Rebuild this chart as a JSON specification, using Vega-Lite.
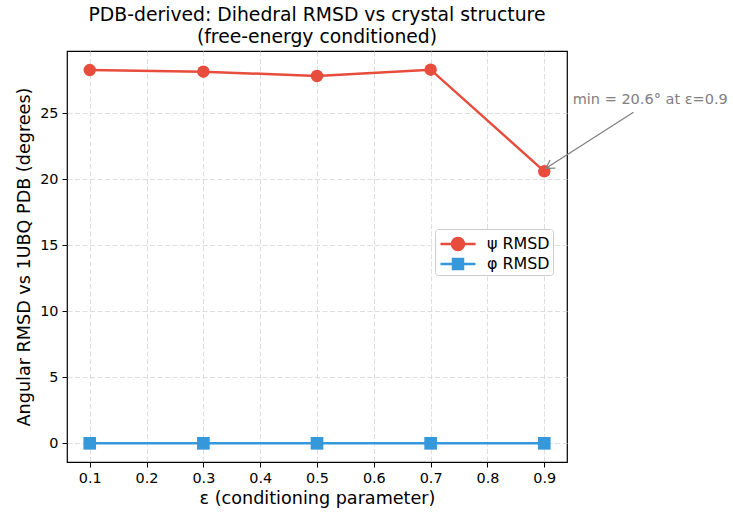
{
  "$schema": "https://vega.github.io/schema/vega-lite/v6.json",
  "width": 500,
  "height": 411,
  "autosize": {"type": "none"},
  "padding": {"left": 67, "top": 51, "right": 166, "bottom": 54},
  "background": "white",
  "title": {
    "text": ["PDB-derived: Dihedral RMSD vs crystal structure", "(free-energy conditioned)"],
    "anchor": "middle",
    "font": "DejaVu Sans",
    "fontSize": 18.8,
    "fontWeight": "normal",
    "color": "#000",
    "offset": 4,
    "lineHeight": 22
  },
  "config": {
    "font": "DejaVu Sans",
    "view": {"stroke": "#000", "strokeWidth": 1.2},
    "axis": {
      "domain": false,
      "grid": true,
      "gridColor": "#d6d6d6",
      "gridDash": [5, 2.5],
      "gridWidth": 0.8,
      "tickColor": "#000",
      "tickSize": 5,
      "tickWidth": 1,
      "labelFont": "DejaVu Sans",
      "labelFontSize": 14.4,
      "labelColor": "#000",
      "labelPadding": 4,
      "titleFont": "DejaVu Sans",
      "titleFontSize": 17.6,
      "titleFontWeight": "normal",
      "titleColor": "#000"
    }
  },
  "datasets": {
    "series": [
      {"eps": 0.1, "rmsd": 28.27, "series": "ψ RMSD"},
      {"eps": 0.3, "rmsd": 28.15, "series": "ψ RMSD"},
      {"eps": 0.5, "rmsd": 27.82, "series": "ψ RMSD"},
      {"eps": 0.7, "rmsd": 28.3, "series": "ψ RMSD"},
      {"eps": 0.9, "rmsd": 20.6, "series": "ψ RMSD"},
      {"eps": 0.1, "rmsd": 0, "series": "φ RMSD"},
      {"eps": 0.3, "rmsd": 0, "series": "φ RMSD"},
      {"eps": 0.5, "rmsd": 0, "series": "φ RMSD"},
      {"eps": 0.7, "rmsd": 0, "series": "φ RMSD"},
      {"eps": 0.9, "rmsd": 0, "series": "φ RMSD"}
    ],
    "note": [
      {"tx": 0.95, "ty": 26.0, "x1": 1.057, "y1": 25.07, "x2": 0.903, "y2": 20.83, "label": "min = 20.6° at ε=0.9"}
    ]
  },
  "encoding": {
    "x": {
      "type": "quantitative",
      "scale": {"domain": [0.06, 0.94], "nice": false, "zero": false},
      "axis": {"values": [0.1, 0.2, 0.3, 0.4, 0.5, 0.6, 0.7, 0.8, 0.9], "format": ".1f", "title": "ε (conditioning parameter)", "titlePadding": 5}
    },
    "y": {
      "type": "quantitative",
      "scale": {"domain": [-1.415, 29.715], "nice": false, "zero": false},
      "axis": {"values": [0, 5, 10, 15, 20, 25], "title": "Angular RMSD vs 1UBQ PDB (degrees)", "titlePadding": 6}
    }
  },
  "layer": [
    {
      "data": {"name": "series"},
      "mark": {"type": "line", "strokeWidth": 2.5},
      "encoding": {
        "x": {"field": "eps"},
        "y": {"field": "rmsd"},
        "color": {
          "field": "series",
          "type": "nominal",
          "scale": {"domain": ["ψ RMSD", "φ RMSD"], "range": ["#e74c3c", "#3498db"]},
          "legend": {
            "title": null,
            "orient": "none",
            "legendX": 368,
            "legendY": 178,
            "padding": 3,
            "symbolSize": 576,
            "symbolOffset": 8,
            "labelOffset": 17,
            "rowPadding": -0.6,
            "labelFont": "DejaVu Sans",
            "labelFontSize": 15.9,
            "labelColor": "#000",
            "fillColor": "white",
            "strokeColor": "#cccccc",
            "cornerRadius": 3,
            "encode": {
              "symbols": {
                "update": {
                  "shape": {"signal": "datum.value === 'ψ RMSD' ? 'M-1.46,-0.1H1.46V0.1H-1.46Z M0.6,0A0.6,0.6,0,1,1,-0.6,0A0.6,0.6,0,1,1,0.6,0Z' : 'M-1.46,-0.1H1.46V0.1H-1.46Z M-0.52,-0.52H0.52V0.52H-0.52Z'"},
                  "fill": {"scale": "color", "field": "value"},
                  "fillOpacity": {"value": 1},
                  "strokeWidth": {"value": 0}
                }
              }
            }
          }
        }
      }
    },
    {
      "data": {"name": "series"},
      "transform": [{"filter": "datum.series === 'ψ RMSD'"}],
      "mark": {"type": "point", "shape": "circle", "filled": true, "opacity": 1, "size": 155, "color": "#e74c3c"},
      "encoding": {"x": {"field": "eps"}, "y": {"field": "rmsd"}}
    },
    {
      "data": {"name": "series"},
      "transform": [{"filter": "datum.series === 'φ RMSD'"}],
      "mark": {"type": "point", "shape": "square", "filled": true, "opacity": 1, "size": 160, "color": "#3498db"},
      "encoding": {"x": {"field": "eps"}, "y": {"field": "rmsd"}}
    },
    {
      "data": {"name": "note"},
      "mark": {"type": "rule", "color": "#808080", "strokeWidth": 1.2},
      "encoding": {"x": {"field": "x1"}, "y": {"field": "y1"}, "x2": {"field": "x2"}, "y2": {"field": "y2"}}
    },
    {
      "data": {"name": "note"},
      "mark": {"type": "point", "shape": "M-0.6,1L0,0L0.6,1", "filled": false, "opacity": 1, "size": 256, "angle": 237.4, "stroke": "#808080", "strokeWidth": 1.2},
      "encoding": {"x": {"field": "x2"}, "y": {"field": "y2"}}
    },
    {
      "data": {"name": "note"},
      "mark": {"type": "text", "align": "left", "baseline": "middle", "font": "DejaVu Sans", "fontSize": 14.5, "color": "#808080"},
      "encoding": {"x": {"field": "tx"}, "y": {"field": "ty"}, "text": {"field": "label"}}
    }
  ]
}
